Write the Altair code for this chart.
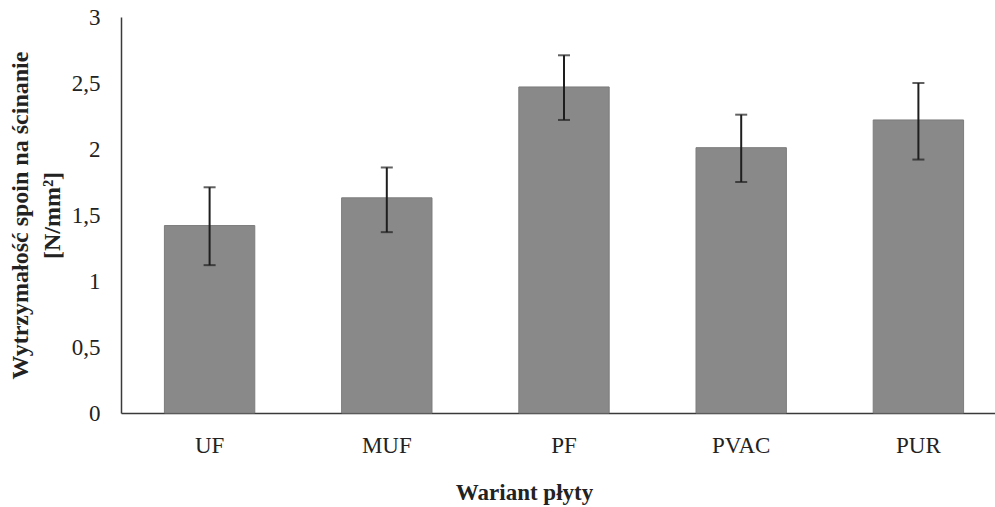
import altair as alt
import pandas as pd

categories = ["UF", "MUF", "PF", "PVAC", "PUR"]
means = [1.42, 1.63, 2.47, 2.01, 2.22]
lower = [1.12, 1.37, 2.22, 1.75, 1.92]
upper = [1.71, 1.86, 2.71, 2.26, 2.50]
y_ticks = [0, 0.5, 1, 1.5, 2, 2.5, 3]

df = pd.DataFrame({"cat": categories, "mean": means, "lo": lower, "hi": upper})

FONT = "Liberation Serif"

x_enc = alt.X(
    "cat:N",
    sort=categories,
    scale=alt.Scale(range=[0, 886], paddingInner=0.49, paddingOuter=0.245),
    axis=alt.Axis(
        title="Wariant płyty",
        titleFont=FONT, titleFontSize=23, titleFontWeight="bold", titleColor="#222222",
        titleX=403, titleY=86, titleBaseline="alphabetic", titleAlign="center",
        labelFont=FONT, labelFontSize=23, labelColor="#222222", labelAngle=0,
        labelBaseline="alphabetic", labelPadding=39,
        ticks=False, tickSize=0, grid=False,
        domainColor="#3a3a3a", domainWidth=1.5,
    ),
)

y_scale = alt.Scale(domain=[0, 3], nice=False)

bars = alt.Chart(df).mark_bar(color="#898989", stroke="#7c7c7c", strokeWidth=1).encode(
    x=x_enc,
    y=alt.Y(
        "mean:Q",
        scale=y_scale,
        axis=alt.Axis(
            values=y_ticks,
            labelExpr="replace(format(datum.value, '.1~f'), '.', ',')",
            title=["Wytrzymałość spoin na ścinanie", "[N/mm²]"],
            titleFont=FONT, titleFontSize=24, titleFontWeight="bold", titleColor="#222222",
            titleLineHeight=32, titleX=-101, titleY=198, titleAngle=-90,
            titleBaseline="middle", titleAlign="center",
            labelFont=FONT, labelFontSize=23, labelColor="#222222",
            labelPadding=21, labelBaseline="middle",
            ticks=False, tickSize=0, grid=False,
            domainColor="#3a3a3a", domainWidth=1.5,
        ),
    ),
)

rules = alt.Chart(df).mark_rule(color="#1e1e1e", strokeWidth=2).encode(
    x=alt.X("cat:N", sort=categories),
    y=alt.Y("lo:Q", scale=y_scale),
    y2="hi:Q",
)

caps_hi = alt.Chart(df).mark_tick(color="#1e1e1e", thickness=2, size=12).encode(
    x=alt.X("cat:N", sort=categories),
    y=alt.Y("hi:Q", scale=y_scale),
)
caps_lo = alt.Chart(df).mark_tick(color="#1e1e1e", thickness=2, size=12).encode(
    x=alt.X("cat:N", sort=categories),
    y=alt.Y("lo:Q", scale=y_scale),
)

chart = alt.layer(bars, rules, caps_hi, caps_lo).properties(
    width=874,
    height=396,
    autosize=alt.AutoSizeParams(type="none"),
    padding={"left": 121, "top": 17, "right": 0, "bottom": 94},
    background="white",
).configure_view(stroke=None)

chart.save("out.html", embed_options={"renderer": "svg", "actions": False})
